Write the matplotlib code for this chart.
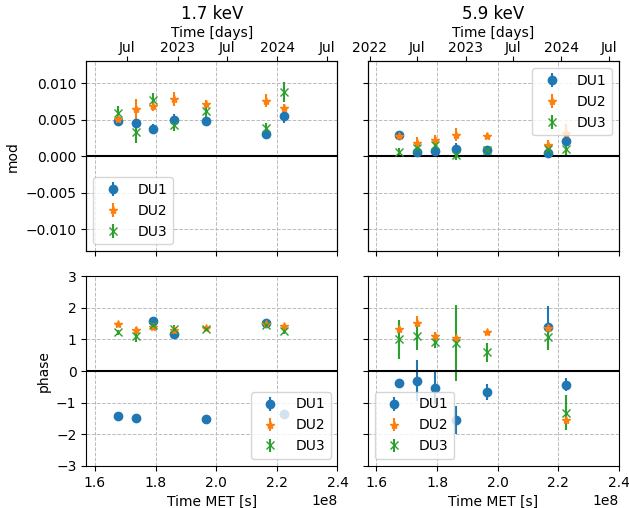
import datetime as dt
import matplotlib
matplotlib.use("Agg")
import matplotlib.pyplot as plt
import matplotlib.dates as mdates
from matplotlib.ticker import FuncFormatter

### DONNEES
energies = ["1.7 keV", "5.9 keV"]
detecteurs = ["DU1", "DU2", "DU3"]
marqueurs = ["o", "*", "x"]

# temps MET des observations [s]
t_met = [1.676e8, 1.735e8, 1.792e8, 1.862e8, 1.966e8, 2.165e8, 2.224e8]

# modulation 1.7 keV
mod_17_du1 = [0.00489, 0.00457, 0.00375, 0.00499, 0.00489, 0.00311, 0.00557]
mod_17_du1_err = [0.0006, 0.0006, 0.0007, 0.0008, 0.0004, 0.0007, 0.0010]
mod_17_du2 = [0.00512, 0.00649, 0.00685, 0.00786, 0.00718, 0.00759, 0.00663]
mod_17_du2_err = [0.0005, 0.0014, 0.0007, 0.0010, 0.0005, 0.0009, 0.0006]
mod_17_du3 = [0.00594, 0.00329, 0.00767, 0.00434, 0.00616, 0.00389, 0.00882]
mod_17_du3_err = [0.0010, 0.0014, 0.0010, 0.0009, 0.0008, 0.0007, 0.0014]

# modulation 5.9 keV
mod_59_du1 = [0.00297, 0.00060, 0.00078, 0.00105, 0.00092, 0.00046, 0.00215]
mod_59_du1_err = [0.0005, 0.0006, 0.0005, 0.0008, 0.0003, 0.0004, 0.0007]
mod_59_du2 = [0.00284, 0.00183, 0.00219, 0.00297, 0.00274, 0.00160, 0.00320]
mod_59_du2_err = [0.0006, 0.0008, 0.0007, 0.0009, 0.0004, 0.0007, 0.0012]
mod_59_du3 = [0.00060, 0.00115, 0.00160, 0.00023, 0.00082, 0.00100, 0.00105]
mod_59_du3_err = [0.0006, 0.0008, 0.0007, 0.0008, 0.0004, 0.0006, 0.0009]

# phase 1.7 keV
ph_17_du1 = [-1.42, -1.48, 1.57, 1.18, -1.53, 1.52, -1.36]
ph_17_du1_err = [0.05, 0.06, 0.08, 0.06, 0.05, 0.07, 0.08]
ph_17_du2 = [1.49, 1.31, 1.39, 1.29, 1.37, 1.50, 1.41]
ph_17_du2_err = [0.05, 0.08, 0.06, 0.06, 0.04, 0.06, 0.05]
ph_17_du3 = [1.22, 1.11, 1.47, 1.34, 1.34, 1.44, 1.26]
ph_17_du3_err = [0.08, 0.20, 0.09, 0.10, 0.07, 0.09, 0.10]

# phase 5.9 keV
ph_59_du1 = [-0.37, -0.31, -0.53, -1.55, -0.66, 1.39, -0.43]
ph_59_du1_err = [0.07, 0.65, 0.50, 0.45, 0.25, 0.68, 0.20]
ph_59_du2 = [1.34, 1.53, 1.11, 1.05, 1.23, 1.37, -1.55]
ph_59_du2_err = [0.10, 0.20, 0.12, 0.10, 0.05, 0.15, 0.15]
ph_59_du3 = [1.00, 1.10, 0.92, 0.89, 0.60, 1.08, -1.32]
ph_59_du3_err = [0.62, 0.45, 0.20, 1.20, 0.30, 0.40, 0.55]

mod = [[mod_17_du1, mod_17_du2, mod_17_du3], [mod_59_du1, mod_59_du2, mod_59_du3]]
mod_err = [[mod_17_du1_err, mod_17_du2_err, mod_17_du3_err],
           [mod_59_du1_err, mod_59_du2_err, mod_59_du3_err]]
phase = [[ph_17_du1, ph_17_du2, ph_17_du3], [ph_59_du1, ph_59_du2, ph_59_du3]]
phase_err = [[ph_17_du1_err, ph_17_du2_err, ph_17_du3_err],
             [ph_59_du1_err, ph_59_du2_err, ph_59_du3_err]]

# limites de l'axe du haut (dates)
dates_lim = [(dt.datetime(2022, 1, 31), dt.datetime(2024, 8, 8)),
             (dt.datetime(2021, 12, 23), dt.datetime(2024, 8, 8))]

legende_mod = ["lower left", "upper right"]
legende_phase = ["lower right", "lower left"]


### FONCTION
def format_date(x, pos):
    d = mdates.num2date(x)
    if d.month == 1:
        return str(d.year)
    return "Jul"


### FIGURE
fig, axes = plt.subplots(2, 2, figsize=(6.29, 5.08), dpi=100, sharex=True, sharey="row")
fig.subplots_adjust(left=0.137, right=0.984, top=0.879, bottom=0.083, wspace=0.12, hspace=0.132)

for j in range(2):
    ax_m = axes[0][j]
    ax_p = axes[1][j]
    for k in range(3):
        ax_m.errorbar(t_met, mod[j][k], yerr=mod_err[j][k], fmt=marqueurs[k],
                      color=f"C{k}", label=detecteurs[k])
        ax_p.errorbar(t_met, phase[j][k], yerr=phase_err[j][k], fmt=marqueurs[k],
                      color=f"C{k}", label=detecteurs[k])

    for ax in (ax_m, ax_p):
        ax.axhline(0, color="black", lw=1.5)
        ax.grid(True, ls="--", color="#bbbbbb", lw=0.7)

    ax_m.legend(loc=legende_mod[j])
    ax_p.legend(loc=legende_phase[j])
    ax_p.set_xlabel("Time MET [s]")

    # axe du haut en dates
    ax_t = ax_m.twiny()
    ax_t.set_xlim(mdates.date2num(dates_lim[j][0]), mdates.date2num(dates_lim[j][1]))
    ax_t.xaxis.set_major_locator(mdates.MonthLocator(bymonth=[1, 7]))
    ax_t.xaxis.set_major_formatter(FuncFormatter(format_date))
    ax_t.tick_params(axis="x", pad=1.5)
    ax_t.set_xlabel("Time [days]", labelpad=2.5)
    ax_t.set_title(energies[j], pad=5.3)

axes[0][0].set_xlim(1.571e8, 2.4e8)
axes[0][0].set_ylim(-0.013, 0.013)
axes[1][0].set_ylim(-3, 3)
axes[0][0].set_ylabel("mod")
axes[1][0].set_ylabel("phase")

fig.savefig("out.png", dpi=100)
